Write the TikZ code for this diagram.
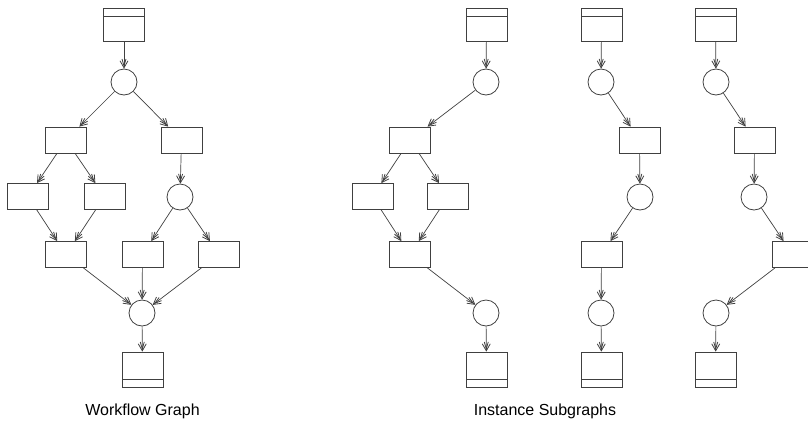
\documentclass[tikz,border=0pt]{standalone}
\usepackage{fontspec}
\setmainfont{Liberation Sans}
\usetikzlibrary{arrows.meta}
\tikzset{
  ink/.style={draw=black!75, line width=0.8pt},
  task/.style={ink, rectangle, minimum width=41pt, minimum height=26pt, inner sep=0pt},
  place/.style={ink, circle, minimum size=26pt, inner sep=0pt},
  startbox/.style={ink, rectangle, minimum width=41pt, minimum height=33pt, inner sep=0pt,
    path picture={\draw[black!75, line width=0.8pt]
      ([yshift=-8pt]path picture bounding box.north west) --
      ([yshift=-8pt]path picture bounding box.north east);}},
  endbox/.style={ink, rectangle, minimum width=41pt, minimum height=35pt, inner sep=0pt,
    path picture={\draw[black!75, line width=0.8pt]
      ([yshift=8pt]path picture bounding box.south west) --
      ([yshift=8pt]path picture bounding box.south east);}},
  % open barb with a narrower barb nested inside it
  flow/.style={black!75, line width=0.7pt,
    -{Straight Barb[length=7pt,width=4pt,line width=0.8pt,sep=-7pt]
      Straight Barb[length=7pt,width=8pt,line width=0.8pt]}},
  caption/.style={font=\fontsize{16}{19}\selectfont, inner sep=0pt}
}
\begin{document}
\begin{tikzpicture}[x=1pt, y=-1pt]
\useasboundingbox (0,0) rectangle (808,424);

% ---- workflow graph ----
\node[startbox] (ws) at (124,24.5) {};
\node[place] (wp1) at (124,82) {};
\node[task] (wa) at (66,140) {};
\node[task] (wb) at (181.5,140) {};
\node[task] (wc) at (28,196.5) {};
\node[task] (wd) at (104.5,196.5) {};
\node[place] (wp2) at (180,197) {};
\node[task] (we) at (66,254.5) {};
\node[task] (wf) at (142.5,254.5) {};
\node[task] (wg) at (219,254.5) {};
\node[place] (wp3) at (142,313) {};
\node[endbox] (wz) at (142.5,369.5) {};
\draw[flow] (ws) -- (wp1);
\draw[flow] (wp1) -- (wa);
\draw[flow] (wp1) -- (wb);
\draw[flow] (wa) -- (wc);
\draw[flow] (wa) -- (wd);
\draw[flow] (wb) -- (wp2);
\draw[flow] (wc) -- (we);
\draw[flow] (wd) -- (we);
\draw[flow] (wp2) -- (wf);
\draw[flow] (wp2) -- (wg);
\draw[flow] (we) -- (wp3);
\draw[flow] (wf) -- (wp3);
\draw[flow] (wg) -- (wp3);
\draw[flow] (wp3) -- (wz);
\node[caption] (wcap) at (142.5,411) {Workflow Graph};

% ---- first instance ----
\node[startbox] (as) at (486.5,24.5) {};
\node[place] (ap1) at (486,82) {};
\node[task] (aa) at (410,140) {};
\node[task] (ac) at (372.5,196.5) {};
\node[task] (ad) at (448,196.5) {};
\node[task] (ae) at (410,254.5) {};
\node[place] (ap3) at (486,313) {};
\node[endbox] (az) at (486.5,369.5) {};
\draw[flow] (as) -- (ap1);
\draw[flow] (ap1) -- (aa);
\draw[flow] (aa) -- (ac);
\draw[flow] (aa) -- (ad);
\draw[flow] (ac) -- (ae);
\draw[flow] (ad) -- (ae);
\draw[flow] (ae) -- (ap3);
\draw[flow] (ap3) -- (az);

% ---- second instance ----
\node[startbox] (bs) at (601.5,24.5) {};
\node[place] (bp1) at (601,82) {};
\node[task] (bb) at (639.5,140) {};
\node[place] (bp2) at (640,197) {};
\node[task] (bf) at (601.5,254.5) {};
\node[place] (bp3) at (601,313) {};
\node[endbox] (bz) at (601.5,369.5) {};
\draw[flow] (bs) -- (bp1);
\draw[flow] (bp1) -- (bb);
\draw[flow] (bb) -- (bp2);
\draw[flow] (bp2) -- (bf);
\draw[flow] (bf) -- (bp3);
\draw[flow] (bp3) -- (bz);

% ---- third instance ----
\node[startbox] (cs) at (715.5,24.5) {};
\node[place] (cp1) at (716,82) {};
\node[task] (cb) at (754.5,140) {};
\node[place] (cp2) at (754,197) {};
\node[task] (cg) at (792.5,254.5) {};
\node[place] (cp3) at (716,313) {};
\node[endbox] (cz) at (715.5,369.5) {};
\draw[flow] (cs) -- (cp1);
\draw[flow] (cp1) -- (cb);
\draw[flow] (cb) -- (cp2);
\draw[flow] (cp2) -- (cg);
\draw[flow] (cg) -- (cp3);
\draw[flow] (cp3) -- (cz);

\node[caption] (icap) at (545,411) {Instance Subgraphs};
\end{tikzpicture}
\end{document}
